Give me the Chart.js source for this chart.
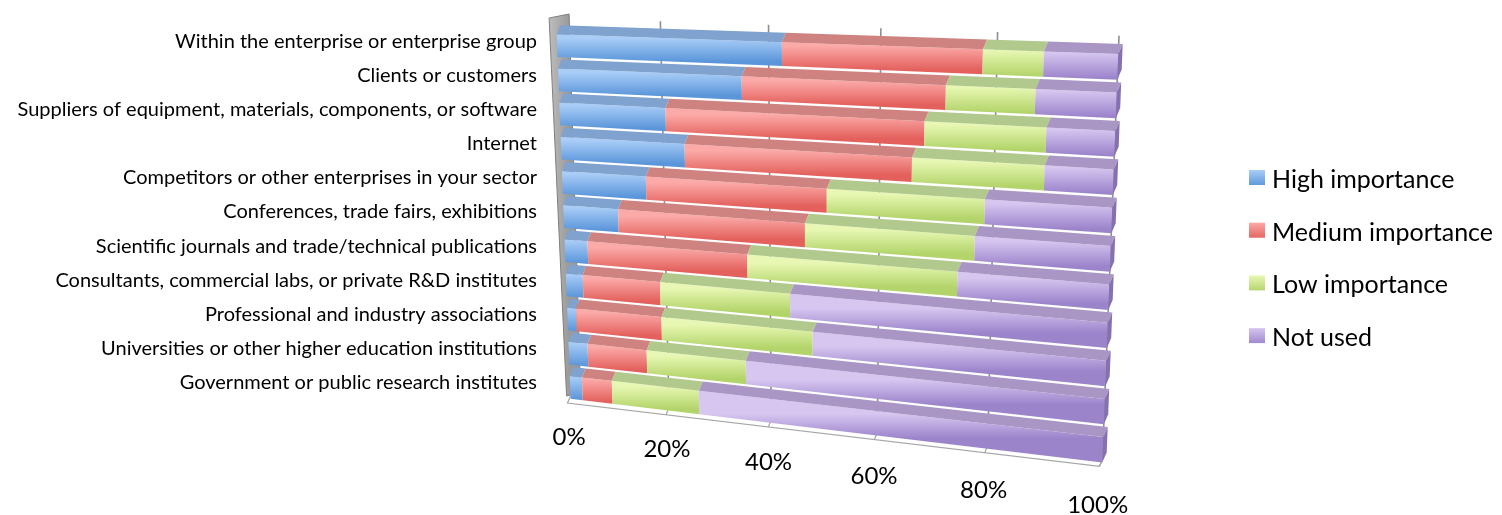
<!DOCTYPE html>
<html>
<head>
<meta charset="utf-8">
<script src="https://cdn.jsdelivr.net/npm/chart.js@4.4.1/dist/chart.umd.min.js"></script>
<style>
  html, body { margin: 0; padding: 0; background: #ffffff; }
  #wrap { width: 1502px; height: 515px; }
</style>
</head>
<body>
<div id="wrap"><canvas id="chart" width="1502" height="515"></canvas></div>
<script>
// ---------------- data ----------------
const categories = [
  "Within the enterprise or enterprise group",
  "Clients or customers",
  "Suppliers of equipment, materials, components, or software",
  "Internet",
  "Competitors or other enterprises in your sector",
  "Conferences, trade fairs, exhibitions",
  "Scientific journals and trade/technical publications",
  "Consultants, commercial labs, or private R&D institutes",
  "Professional and industry associations",
  "Universities or other higher education institutions",
  "Government or public research institutes"
];
const seriesNames = ["High importance", "Medium importance", "Low importance", "Not used"];
const highImportance   = [42.4, 35.0, 20.6, 24.1, 16.5, 10.9,  4.6,  3.4,  1.8,  3.9,  2.5];
const mediumImportance = [35.2, 36.4, 47.2, 41.6, 34.0, 35.6, 31.1, 15.4, 17.1, 11.9,  6.1];
const lowImportance    = [10.2, 15.2, 20.8, 22.8, 28.0, 30.4, 38.3, 24.9, 29.0, 19.4, 17.4];
const notUsed          = [12.2, 13.4, 11.4, 11.5, 21.5, 23.1, 26.0, 56.3, 52.1, 64.8, 74.0];
const tickValues = [0, 20, 40, 60, 80, 100];
const tickLabels = ["0%", "20%", "40%", "60%", "80%", "100%"];

// ---------------- styles ----------------
const FONT = "Lato, 'Open Sans', sans-serif";
const SERIES_STYLE = [
  { top: "#a9cdf7", bottom: "#5b96da", face: "#7fa2cf", side: "#5d86bd" },
  { top: "#fbaaa8", bottom: "#e3605c", face: "#cf8381", side: "#b85c59" },
  { top: "#e8f8b4", bottom: "#b3d46a", face: "#b2c98d", side: "#93ad62" },
  { top: "#d6c6f0", bottom: "#9c84cb", face: "#a996c5", side: "#8571b0" }
];
const GEOM = {
  xsTop: 557, xsBot: 570, xeTop: 1118, xeBot: 1103,
  kTop: 0.037, kBot: 0.116, persp: 0.10,
  topFace: 9, dx: 4
};

// perspective-like warp of a flat (value, y) point
function proj(chart, v, yFlat) {
  const a = chart.chartArea, n = chart.data.labels.length;
  const t = (yFlat - a.top) / (a.bottom - a.top);
  const r = (t * n - 0.5) / (n - 1);
  const xs = GEOM.xsTop + (GEOM.xsBot - GEOM.xsTop) * r;
  const xe = GEOM.xeTop + (GEOM.xeBot - GEOM.xeTop) * r;
  const k = GEOM.kTop + (GEOM.kBot - GEOM.kTop) * r;
  const u = Math.max(0, Math.min(1, v / 100));
  const f = u / (1 + GEOM.persp * (1 - u));
  const x = xs + f * (xe - xs);
  return [x, yFlat + k * (x - xs)];
}

function poly(ctx, pts, fill, stroke, lw) {
  ctx.beginPath();
  ctx.moveTo(pts[0][0], pts[0][1]);
  for (let i = 1; i < pts.length; i++) ctx.lineTo(pts[i][0], pts[i][1]);
  ctx.closePath();
  if (fill) { ctx.fillStyle = fill; ctx.fill(); }
  if (stroke) { ctx.strokeStyle = stroke; ctx.lineWidth = lw || 1; ctx.stroke(); }
}

const threeD = {
  id: "threeD",
  beforeDatasetsDraw(chart) {
    const ctx = chart.ctx, a = chart.chartArea, xScale = chart.scales.x;
    ctx.save();
    // left wall
    const w0 = proj(chart, 0, a.top - 6), w1 = proj(chart, 0, a.bottom - 2);
    const wall = [[w0[0] - 7, w0[1]], [w0[0] + 13, w0[1] - 4], [w1[0] + 10, w1[1] - 6], [w1[0] - 4, w1[1] - 2]];
    const wg = ctx.createLinearGradient(w0[0] - 7, 0, w0[0] + 13, 0);
    wg.addColorStop(0, "#bdbdbd"); wg.addColorStop(1, "#9a9a9a");
    poly(ctx, wall, wg, "#7f7f7f", 1);
    // floor
    const f0 = proj(chart, 0, a.bottom - 4), f1 = proj(chart, 100, a.bottom - 4);
    poly(ctx, [f0, f1, [f1[0] - 3, f1[1] + 7], [f0[0] - 3, f0[1] + 7]], "#ffffff", "#a6a6a6", 1.2);
    // gridlines
    tickValues.forEach(v => {
      if (v === 0) return;
      const p = proj(chart, v, a.top - 6), q = proj(chart, v, a.bottom - 4);
      ctx.strokeStyle = "#8e8e8e"; ctx.lineWidth = 1.6;
      ctx.beginPath(); ctx.moveTo(p[0], p[1]); ctx.lineTo(q[0], q[1]); ctx.stroke();
      ctx.strokeStyle = "#a6a6a6"; ctx.lineWidth = 1.2;
      ctx.beginPath(); ctx.moveTo(q[0], q[1]); ctx.lineTo(q[0] - 3, q[1] + 7); ctx.stroke();
    });
    // bars, row by row
    const metas = chart.data.datasets.map((d, i) => chart.getDatasetMeta(i));
    const nRows = chart.data.labels.length;
    for (let j = 0; j < nRows; j++) {
      for (let i = 0; i < metas.length; i++) {
        const el = metas[i].data[j];
        if (!el) continue;
        const st = SERIES_STYLE[i];
        const pr = el.getProps(["x", "y", "base", "height"], true);
        const v0 = xScale.getValueForPixel(Math.min(pr.base, pr.x));
        const v1 = xScale.getValueForPixel(Math.max(pr.base, pr.x));
        if (v1 - v0 <= 0) continue;
        const yT = pr.y - pr.height / 2, yB = pr.y + pr.height / 2, yF = yT + GEOM.topFace;
        const A = proj(chart, v0, yF), B = proj(chart, v1, yF), C = proj(chart, v1, yB), D = proj(chart, v0, yB);
        const mx = (A[0] + B[0]) / 2;
        const my0 = (A[1] + B[1]) / 2, my1 = (C[1] + D[1]) / 2;
        const g = ctx.createLinearGradient(mx, my0, mx, my1);
        g.addColorStop(0, st.top); g.addColorStop(1, st.bottom);
        poly(ctx, [A, B, C, D], g);
        const E = proj(chart, v1, yT), F = proj(chart, v0, yT);
        poly(ctx, [A, B, [E[0] + GEOM.dx, E[1]], [F[0] + GEOM.dx, F[1]]], st.face);
        if (i === metas.length - 1 || v1 >= 99.9) {
          const G = proj(chart, v1, yB - GEOM.topFace);
          poly(ctx, [B, [E[0] + GEOM.dx, E[1]], [G[0] + GEOM.dx, G[1]], C], st.side);
        }
      }
    }
    ctx.restore();
    return false;
  },
  afterDraw(chart) {
    const ctx = chart.ctx, a = chart.chartArea;
    ctx.save();
    // x tick labels
    ctx.fillStyle = "#000000";
    ctx.font = "24px " + FONT;
    ctx.textAlign = "center";
    ctx.textBaseline = "middle";
    tickValues.forEach((v, i) => {
      const p = proj(chart, v, a.bottom + 37);
      ctx.fillText(tickLabels[i], p[0] - 3, p[1]);
    });
    // legend
    ctx.font = "25px " + FONT;
    ctx.textAlign = "left";
    chart.data.datasets.forEach((d, i) => {
      const y = 178 + i * 52.7;
      const st = SERIES_STYLE[i];
      const g = ctx.createLinearGradient(0, y - 8, 0, y + 8);
      g.addColorStop(0, st.top); g.addColorStop(1, st.bottom);
      ctx.fillStyle = g;
      ctx.fillRect(1249, y - 8, 16, 15);
      ctx.fillStyle = "#000000";
      ctx.fillText(d.label, 1272, y + 2);
    });
    ctx.restore();
  }
};

const seriesData = [highImportance, mediumImportance, lowImportance, notUsed];

new Chart(document.getElementById("chart"), {
  type: "bar",
  data: {
    labels: categories,
    datasets: seriesNames.map((name, i) => ({
      label: name,
      data: seriesData[i],
      backgroundColor: SERIES_STYLE[i].bottom,
      borderWidth: 0,
      categoryPercentage: 1.0,
      barPercentage: 0.93
    }))
  },
  options: {
    indexAxis: "y",
    responsive: false,
    animation: false,
    devicePixelRatio: 1,
    layout: { padding: { left: 0, right: 1502 - 1118, top: 24, bottom: 515 - 400 } },
    scales: {
      x: { stacked: true, min: 0, max: 100, display: false },
      y: {
        stacked: true,
        grid: { display: false, drawTicks: false },
        border: { display: false },
        ticks: { color: "#000000", padding: 20, font: { family: FONT, size: 20 } },
        afterFit(scale) { scale.width = 557; scale.paddingTop = 0; scale.paddingBottom = 0; }
      }
    },
    plugins: { legend: { display: false }, tooltip: { enabled: false } }
  },
  plugins: [threeD]
});
</script>
</body>
</html>
